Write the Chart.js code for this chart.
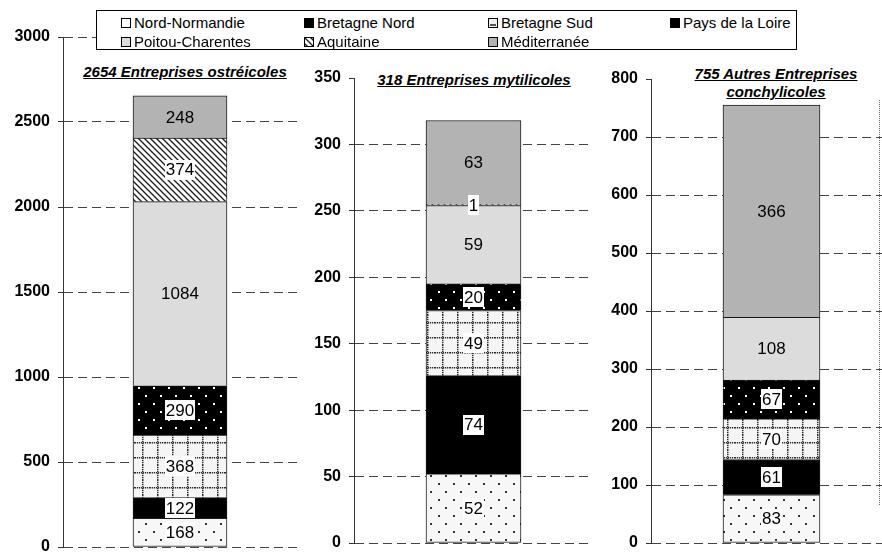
<!DOCTYPE html>
<html>
<head>
<meta charset="utf-8">
<script src="https://cdn.jsdelivr.net/npm/chart.js@4/dist/chart.umd.min.js"></script>
<style>
  html, body { margin: 0; padding: 0; background: #fff; overflow: hidden; }
  #page { position: relative; width: 882px; height: 552px; overflow: hidden; background: #fff;
          font-family: "Liberation Sans", Arial, sans-serif; }
  .panel { position: absolute; top: 0; }
  .title { position: absolute; transform: translateX(-50%); white-space: nowrap; text-align: center;
           font: italic bold 15px "Liberation Sans", Arial, sans-serif; line-height: 18px;
           text-decoration: underline; background: #fff; padding: 0 2px; color: #000; }
  #legend { position: absolute; left: 96px; top: 10px; width: 699px; height: 38px;
            border: 1px solid #000; background: #fff; }
  .item { position: absolute; white-space: nowrap; font: 15px "Liberation Sans", Arial, sans-serif;
          line-height: 18px; color: #000; }
  .item canvas { position: absolute; left: 0; top: 4px; }
  .item span { position: absolute; left: 13px; top: 0; }
  #edge { position: absolute; left: 879px; top: 100px; height: 405px; border-left: 1px dotted #666; }
</style>
</head>
<body>
<div id="page">
  <div id="legend"></div>
  <div id="edge"></div>
</div>
<script>
// Farming regions, in stacking order (bottom to top)
const regions = ['Nord-Normandie', 'Bretagne Nord', 'Bretagne Sud', 'Pays de la Loire',
                 'Poitou-Charentes', 'Aquitaine', 'Méditerranée'];

// Number of businesses per region, for each kind of shellfish farming
const ostreicoles  = [168, 122, 368, 290, 1084, 374, 248];
const mytilicoles  = [52, 74, 49, 20, 59, 1, 63];
const autresConchy = [83, 61, 70, 67, 108, 0, 366];

// Panel headings
const titleLines = [
  ['2654 Entreprises ostréicoles'],
  ['318 Entreprises mytilicoles'],
  ['755 Autres Entreprises', 'conchylicoles']
];

// Value axis range and step for each panel
const axisMax  = [3000, 350, 800];
const axisStep = [500, 50, 100];

// ---- fills -------------------------------------------------------------
function tile(w, h, draw) {
  const c = document.createElement('canvas');
  c.width = w; c.height = h;
  draw(c.getContext('2d'), w, h);
  return c;
}
const patCtx = document.createElement('canvas').getContext('2d');
const pattern = t => patCtx.createPattern(t, 'repeat');

const fills = [
  // sparse dark dots on near white
  pattern(tile(15, 16, g => {
    g.fillStyle = '#f7f7f7'; g.fillRect(0, 0, 15, 16);
    g.fillStyle = '#333'; g.fillRect(3, 3, 2, 2); g.fillRect(10, 11, 2, 2);
  })),
  '#000000',
  // dotted grid on near white
  pattern(tile(15, 15, g => {
    g.fillStyle = '#f5f5f5'; g.fillRect(0, 0, 15, 15);
    g.fillStyle = '#2a2a2a';
    for (let t = 0; t < 15; t += 2) { g.fillRect(7, t, 1.5, 1.2); g.fillRect(t, 7, 1.2, 1.5); }
  })),
  // white dots on black
  pattern(tile(15, 16, g => {
    g.fillStyle = '#000'; g.fillRect(0, 0, 15, 16);
    g.fillStyle = '#fff'; g.fillRect(3, 3, 2, 2); g.fillRect(10, 11, 2, 2);
  })),
  '#dcdcdc',
  // diagonal hatch
  pattern(tile(6, 6, g => {
    g.fillStyle = '#fff'; g.fillRect(0, 0, 6, 6);
    g.strokeStyle = '#1a1a1a'; g.lineWidth = 1.3;
    g.beginPath();
    g.moveTo(-1, -1); g.lineTo(7, 7);
    g.moveTo(-1, 5); g.lineTo(1, 7);
    g.moveTo(5, -1); g.lineTo(7, 1);
    g.stroke();
  })),
  '#b3b3b3'
];
// small legend keys
const keyFills = ['#ffffff', '#000000', '#f0f0f0', '#000000', '#dcdcdc', fills[5], '#b3b3b3'];
// value labels sitting on a white box
const boxedLabel = [true, true, true, true, false, true, false];

// ---- legend ------------------------------------------------------------
const legend = document.getElementById('legend');
const legendCols = [24, 207, 391, 573];
const legendRows = [3, 22];
regions.forEach((name, i) => {
  const item = document.createElement('div');
  item.className = 'item';
  item.style.left = legendCols[i % 4] + 'px';
  item.style.top = legendRows[Math.floor(i / 4)] + 'px';
  const sw = document.createElement('canvas');
  sw.width = 10; sw.height = 10;
  const g = sw.getContext('2d');
  g.fillStyle = keyFills[i]; g.fillRect(0, 0, 10, 10);
  if (i === 2) { g.fillStyle = '#555'; g.fillRect(2, 6, 6, 2); }
  g.strokeStyle = '#000'; g.lineWidth = 1; g.strokeRect(0.5, 0.5, 9, 9);
  const label = document.createElement('span');
  label.textContent = name;
  item.appendChild(sw); item.appendChild(label);
  legend.appendChild(item);
});

// ---- value labels plugin ------------------------------------------------
const valueLabels = {
  id: 'valueLabels',
  afterDatasetsDraw(chart) {
    const ctx = chart.ctx;
    ctx.save();
    ctx.font = '17px "Liberation Sans", Arial, sans-serif';
    ctx.textAlign = 'center';
    ctx.textBaseline = 'middle';
    chart.data.datasets.forEach((ds, i) => {
      chart.getDatasetMeta(i).data.forEach((bar, j) => {
        const v = ds.data[j];
        if (!v) return;
        const p = bar.getProps(['x', 'y', 'base'], true);
        const cy = (p.y + p.base) / 2;
        const text = String(v);
        const w = ctx.measureText(text).width;
        if (boxedLabel[i]) {
          ctx.fillStyle = '#fff';
          ctx.fillRect(Math.round(p.x - w / 2 - 1), Math.round(cy - 10), Math.round(w + 2), 20);
        }
        ctx.fillStyle = '#000';
        ctx.fillText(text, p.x, cy + 1);
      });
    });
    ctx.restore();
  }
};

// ---- panels ------------------------------------------------------------
Chart.defaults.font.family = '"Liberation Sans", Arial, sans-serif';
Chart.defaults.color = '#000';

const panelData = [ostreicoles, mytilicoles, autresConchy];
const layout = [
  { left: 0,   axisW: 63, top: 37, bottom: 547, right: 297, bar: 94, tx: 185, ty: 63, topLine: true },
  { left: 300, axisW: 54, top: 78, bottom: 543, right: 593, bar: 95, tx: 474, ty: 71, topLine: false },
  { left: 600, axisW: 51, top: 79, bottom: 543, right: 892, bar: 97, tx: 776, ty: 65, topLine: false }
];
const CW = 300, CH = 600;
const page = document.getElementById('page');

panelData.forEach((values, p) => {
  const L = layout[p];
  const holder = document.createElement('div');
  holder.className = 'panel';
  holder.style.left = L.left + 'px';
  holder.style.width = CW + 'px';
  holder.style.height = CH + 'px';
  const canvas = document.createElement('canvas');
  canvas.width = CW; canvas.height = CH;
  canvas.style.width = CW + 'px'; canvas.style.height = CH + 'px';
  holder.appendChild(canvas);
  page.insertBefore(holder, page.firstChild);

  const max = axisMax[p];
  new Chart(canvas, {
    type: 'bar',
    data: {
      labels: [titleLines[p].join(' ')],
      datasets: regions.map((name, i) => ({
        label: name,
        data: [values[i]],
        backgroundColor: fills[i],
        borderColor: '#1a1a1a',
        // thin slices get an outline on both edges so they read as a dark rule
        borderWidth: c => ({ left: 1, right: 1, top: 1, bottom: (i === 0 || c.raw <= 1) ? 1 : 0 }),
        borderSkipped: false,
        barThickness: L.bar
      }))
    },
    options: {
      responsive: false,
      animation: false,
      events: [],
      layout: { padding: { left: 0, top: L.top, right: CW - (L.right - L.left), bottom: CH - L.bottom } },
      plugins: { legend: { display: false }, title: { display: false }, tooltip: { enabled: false } },
      scales: {
        x: { stacked: true, display: false },
        y: {
          stacked: true,
          min: 0, max: max,
          afterFit: s => { s.width = L.axisW; },
          ticks: { stepSize: axisStep[p], padding: 8, color: '#000',
                   callback: v => String(v),
                   font: { family: '"Liberation Sans", Arial, sans-serif', size: 16, weight: 700 } },
          grid: {
            color: c => (!L.topLine && c.tick && c.tick.value === max) ? 'rgba(0,0,0,0)' : '#444',
            lineWidth: 1,
            drawTicks: true, tickLength: 5, tickColor: '#333', tickBorderDash: [], tickWidth: 1
          },
          border: { display: true, color: '#333', width: 1, dash: [9, 5] }
        }
      }
    },
    plugins: [valueLabels]
  });

  const t = document.createElement('div');
  t.className = 'title';
  t.style.left = L.tx + 'px';
  t.style.top = L.ty + 'px';
  t.innerHTML = titleLines[p].map(s => s.replace(/&/g, '&amp;').replace(/</g, '&lt;')).join('<br>');
  page.appendChild(t);
});
</script>
</body>
</html>
